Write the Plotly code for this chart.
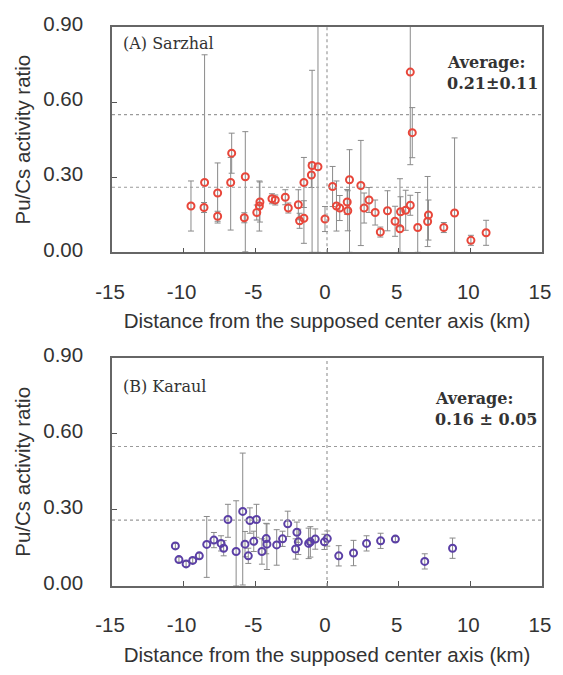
import plotly.graph_objects as go

# ---- Panel A: Sarzhal ----
a_x = [-9.49, -8.58, -8.54, -7.63, -7.63, -6.65, -6.72, -5.70, -5.77, -4.90,
       -4.72, -4.68, -3.84, -3.61, -2.91, -2.70, -2.00, -1.91, -1.61, -1.61,
       -1.09, -1.04, -0.63, -0.14, 0.39, 0.66, 0.89, 1.41, 1.45, 1.57,
       2.36, 2.59, 2.93, 3.36, 3.72, 4.22, 4.75, 5.09, 5.13, 5.49,
       5.81, 5.81, 5.95, 6.33, 7.02, 7.08, 8.15, 8.90, 10.04, 11.10]
a_y = [0.185, 0.179, 0.279, 0.237, 0.144, 0.396, 0.279, 0.302, 0.138, 0.159,
       0.185, 0.201, 0.214, 0.209, 0.220, 0.177, 0.190, 0.126, 0.136, 0.279,
       0.309, 0.347, 0.342, 0.133, 0.263, 0.185, 0.177, 0.201, 0.166, 0.290,
       0.267, 0.177, 0.209, 0.159, 0.081, 0.166, 0.124, 0.094, 0.162, 0.168,
       0.188, 0.720, 0.478, 0.099, 0.123, 0.149, 0.099, 0.157, 0.048, 0.078]
a_eplus = [0.10, 0.02, 0.51, 0.12, 0.02, 0.08, 0.10, 0.18, 0.02, 0.03,
           0.10, 0.08, 0.02, 0.02, 0.03, 0.02, 0.06, 0.03, 0.07, 0.10,
           0.05, 0.38, 0.58, 0.05, 0.08, 0.10, 0.05, 0.05, 0.08, 0.12,
           0.18, 0.06, 0.05, 0.05, 0.02, 0.08, 0.06, 0.20, 0.06, 0.08,
           0.04, 0.19, 0.10, 0.14, 0.18, 0.06, 0.02, 0.30, 0.02, 0.05]
a_eminus = [0.10, 0.02, 0.28, 0.12, 0.02, 0.08, 0.19, 0.30, 0.02, 0.03,
            0.10, 0.08, 0.02, 0.02, 0.03, 0.02, 0.06, 0.03, 0.10, 0.10,
            0.05, 0.347, 0.342, 0.05, 0.08, 0.10, 0.05, 0.05, 0.08, 0.29,
            0.24, 0.06, 0.05, 0.05, 0.02, 0.08, 0.06, 0.094, 0.06, 0.08,
            0.04, 0.37, 0.10, 0.099, 0.10, 0.10, 0.02, 0.157, 0.02, 0.05]

# ---- Panel B: Karaul ----
b_x = [-10.58, -10.33, -9.83, -9.37, -8.91, -8.39, -7.89, -7.39, -7.21, -6.91,
       -6.34, -5.88, -5.72, -5.49, -5.38, -4.92, -5.11, -4.54, -4.24, -4.19,
       -3.51, -3.10, -2.74, -2.19, -2.10, -2.00, -1.28, -1.16, -0.82, -0.18,
       0.02, 0.82, 1.85, 2.76, 3.74, 4.77, 6.82, 8.76]
b_y = [0.158, 0.104, 0.087, 0.101, 0.119, 0.164, 0.181, 0.168, 0.149, 0.262,
       0.136, 0.294, 0.165, 0.119, 0.258, 0.262, 0.176, 0.136, 0.187, 0.165,
       0.162, 0.186, 0.245, 0.146, 0.212, 0.174, 0.168, 0.174, 0.185, 0.174,
       0.187, 0.119, 0.130, 0.168, 0.178, 0.185, 0.097, 0.149]
b_eplus = [0.01, 0.01, 0.01, 0.01, 0.01, 0.11, 0.03, 0.03, 0.03, 0.06,
           0.20, 0.23, 0.05, 0.03, 0.05, 0.06, 0.04, 0.05, 0.06, 0.08,
           0.06, 0.03, 0.05, 0.04, 0.04, 0.05, 0.06, 0.06, 0.04, 0.03,
           0.03, 0.04, 0.05, 0.03, 0.03, 0.01, 0.03, 0.04]
b_eminus = [0.01, 0.01, 0.01, 0.01, 0.01, 0.13, 0.03, 0.03, 0.03, 0.07,
            0.136, 0.29, 0.05, 0.03, 0.05, 0.07, 0.04, 0.05, 0.06, 0.10,
            0.08, 0.03, 0.05, 0.04, 0.04, 0.05, 0.06, 0.06, 0.04, 0.03,
            0.03, 0.04, 0.05, 0.03, 0.03, 0.01, 0.03, 0.04]

ref_lines = [0.55, 0.26]
x_ticks = [-15, -10, -5, 0, 5, 10, 15]
x_ticktext = ["-15", "-10", "-5", "0", "5", "10", "15"]
y_ticks = [0.0, 0.3, 0.6, 0.9]
y_ticktext = ["0.00", "0.30", "0.60", "0.90"]

fig = go.Figure()
ebar = dict(type="data", symmetric=False, color="#8a8a8a", thickness=1, width=3)

fig.add_trace(go.Scatter(
    x=a_x, y=a_y, mode="markers", xaxis="x", yaxis="y",
    marker=dict(symbol="circle-open", size=7, color="#e8463a", line=dict(width=2)),
    error_y=dict(ebar, array=a_eplus, arrayminus=a_eminus),
    showlegend=False, cliponaxis=False, hoverinfo="skip"))
fig.add_trace(go.Scatter(
    x=b_x, y=b_y, mode="markers", xaxis="x2", yaxis="y2",
    marker=dict(symbol="circle-open", size=7, color="#5b3fa6", line=dict(width=2)),
    error_y=dict(ebar, array=b_eplus, arrayminus=b_eminus),
    showlegend=False, cliponaxis=False, hoverinfo="skip"))

tickfont = dict(family="Liberation Sans, Arial", size=20.5, color="#333")
titlefont = dict(family="Liberation Sans, Arial", size=20.5, color="#333")

def xax(anchor):
    return dict(range=[-15, 15], tickvals=x_ticks, ticktext=x_ticktext,
                ticks="inside", ticklen=5, tickcolor="#555", showgrid=False,
                zeroline=False, showline=True, linecolor="#666", linewidth=1.5,
                mirror=True, anchor=anchor, tickfont=tickfont,
                ticklabelstandoff=20, ticklabelshift=-2,
                title=dict(text="Distance from the supposed center axis (km)",
                           font=titlefont, standoff=12))

def yax(anchor, dom):
    return dict(range=[0, 0.9], tickvals=y_ticks, ticktext=y_ticktext,
                ticks="inside", ticklen=5, tickcolor="#555", showgrid=False,
                zeroline=False, showline=True, linecolor="#666", linewidth=1.5,
                mirror=True, anchor=anchor, domain=dom, tickfont=tickfont,
                ticklabelstandoff=23, ticklabelshift=-3,
                title=dict(text="Pu/Cs activity ratio", font=titlefont, standoff=7))

fig.update_layout(
    width=563, height=675,
    margin=dict(l=112, r=12, t=24, b=78),
    paper_bgcolor="white", plot_bgcolor="white",
    xaxis=xax("y"), yaxis=yax("x", [0.5969, 1.0]),
    xaxis2=xax("y2"), yaxis2=yax("x2", [0.0, 0.4084]),
)

for xr, yr in (("x", "y"), ("x2", "y2")):
    for v in ref_lines:
        fig.add_shape(type="line", xref=xr, yref=yr, x0=-15, x1=15, y0=v, y1=v,
                      line=dict(color="#9a9a9a", width=1.2, dash="dot"))
    fig.add_shape(type="line", xref=xr, yref=yr, x0=0, x1=0, y0=0, y1=0.9,
                  line=dict(color="#9a9a9a", width=1.2, dash="dot"))

serif = "DejaVu Serif, Liberation Serif, serif"
ann = [
    dict(x=-14.4, y=0.836, xref="x", yref="y", text="(A) Sarzhal"),
    dict(x=8.2, y=0.758, xref="x", yref="y", text="<b>Average:</b>"),
    dict(x=8.2, y=0.673, xref="x", yref="y", text="<b>0.21±0.11</b>"),
    dict(x=-14.4, y=0.785, xref="x2", yref="y2", text="(B) Karaul"),
    dict(x=7.42, y=0.74, xref="x2", yref="y2", text="<b>Average:</b>"),
    dict(x=7.42, y=0.655, xref="x2", yref="y2", text="<b>0.16 ± 0.05</b>"),
]
for a in ann:
    fig.add_annotation(showarrow=False, xanchor="left", yanchor="middle",
                       font=dict(family=serif, size=16, color="#333"), **a)

fig.write_html("out.html", config={"displayModeBar": False},
               post_script="document.body.style.margin='0';")
